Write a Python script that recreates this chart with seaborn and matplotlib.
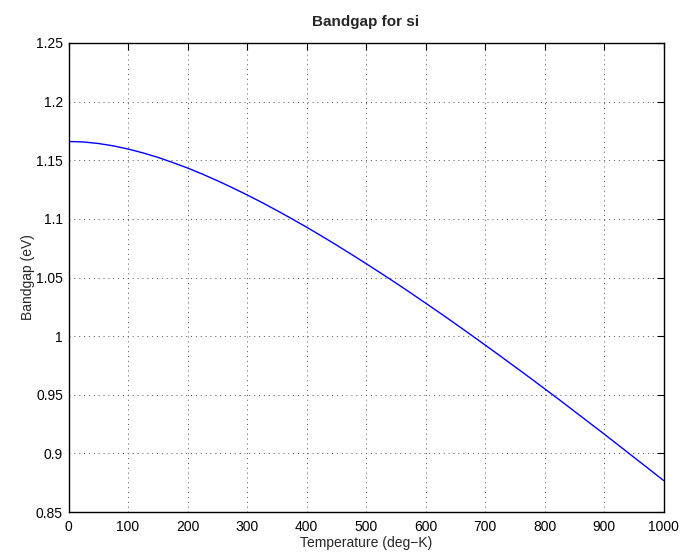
import matplotlib
matplotlib.use("Agg")
import matplotlib.pyplot as plt
import seaborn as sns
import pandas as pd

# Silicon bandgap versus temperature
temperature = [0, 25, 50, 75, 100, 125, 150, 175, 200, 225, 250, 275, 300, 325, 350,
               375, 400, 425, 450, 475, 500, 525, 550, 575, 600, 625, 650, 675, 700,
               725, 750, 775, 800, 825, 850, 875, 900, 925, 950, 975, 1000]
bandgap = [1.1660, 1.1656, 1.1643, 1.1623, 1.1596, 1.1563, 1.1525, 1.1481, 1.1434,
           1.1382, 1.1326, 1.1267, 1.1205, 1.1140, 1.1072, 1.1002, 1.0930, 1.0855,
           1.0778, 1.0699, 1.0619, 1.0537, 1.0454, 1.0369, 1.0282, 1.0195, 1.0106,
           1.0016, 0.9925, 0.9833, 0.9740, 0.9647, 0.9552, 0.9457, 0.9360, 0.9263,
           0.9166, 0.9067, 0.8968, 0.8869, 0.8769]

x_ticks = [0, 100, 200, 300, 400, 500, 600, 700, 800, 900, 1000]
y_ticks = [0.85, 0.9, 0.95, 1.0, 1.05, 1.1, 1.15, 1.2, 1.25]
y_labels = ["0.85", "0.9", "0.95", "1", "1.05", "1.1", "1.15", "1.2", "1.25"]

sns.set_theme(style="white")
plt.rcParams["font.family"] = ["Liberation Sans", "DejaVu Sans"]

df = pd.DataFrame({"T": temperature, "Eg": bandgap})

fig = plt.figure(figsize=(6.81, 5.54), dpi=100)
ax = fig.add_axes([68.5 / 681, 1 - 512 / 554, (663.5 - 68.5) / 681, (512 - 43) / 554])

sns.lineplot(data=df, x="T", y="Eg", ax=ax, color="#0000ff", linewidth=1.0)

ax.set_xlim(0, 1000)
ax.set_ylim(0.85, 1.25)
ax.set_xticks(x_ticks)
ax.set_xticklabels([str(t) for t in x_ticks])
ax.set_yticks(y_ticks)
ax.set_yticklabels(y_labels)

ax.grid(True, linestyle=(0, (1, 4)), color="#555555", linewidth=0.7)
for s in ax.spines.values():
    s.set_color("black")
    s.set_linewidth(1.0)
ax.tick_params(direction="in", length=5, width=0.8, colors="black",
               top=True, right=True, labelsize=10)
ax.tick_params(axis="x", pad=6)
ax.tick_params(axis="y", pad=4)

ax.set_xlabel("Temperature (deg\u2212K)", fontsize=10, labelpad=1)
ax.set_ylabel("Bandgap (eV)", fontsize=10, labelpad=1)
ax.set_title("Bandgap for si", fontsize=11, fontweight="bold", pad=12)

fig.savefig("out.png", dpi=100)
